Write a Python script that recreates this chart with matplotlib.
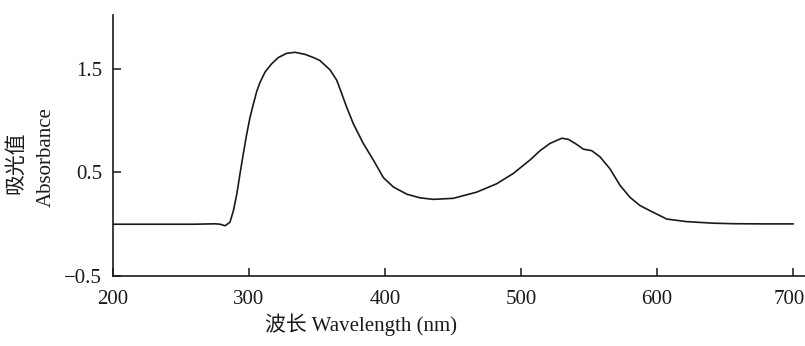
import numpy as np
import matplotlib.pyplot as plt
import matplotlib.transforms as mtransforms

# absorbance spectrum
wavelength = [200, 230, 260, 275, 278.7, 282.4, 286, 288.5, 291, 293.4, 295.8, 298.3, 300.7,
              303.2, 305.6, 308.1, 311.8, 316.7, 321.6, 327.7, 333.8, 341.2, 347.3, 352.2,
              359.6, 364.5, 368.2, 371.8, 376.7, 384, 391.4, 398.8, 406.1, 416, 425.7, 435.5,
              450.2, 467.4, 482, 494.3, 506.6, 514, 521.3, 529.9, 534.8, 541, 545.8, 552,
              558.1, 565.4, 572.8, 580.1, 587.5, 594.9, 607.1, 621.8, 641.4, 656, 680, 700]
absorbance = [0.0, 0.0, 0.0, 0.004, 0.0, -0.015, 0.02, 0.13, 0.29, 0.49, 0.68, 0.87, 1.03,
              1.16, 1.28, 1.37, 1.47, 1.55, 1.61, 1.65, 1.66, 1.64, 1.61, 1.58,
              1.49, 1.39, 1.26, 1.13, 0.97, 0.78, 0.62, 0.45, 0.36, 0.29, 0.255, 0.24,
              0.25, 0.31, 0.39, 0.49, 0.62, 0.71, 0.78, 0.83, 0.82, 0.77, 0.725, 0.71,
              0.65, 0.535, 0.375, 0.26, 0.18, 0.13, 0.05, 0.025, 0.01, 0.005, 0.003, 0.003]
xticks = [200, 300, 400, 500, 600, 700]
yticks = [-0.5, 0.5, 1.5]

fonts = ['Liberation Serif', 'Noto Sans CJK SC']
plt.rcParams['font.family'] = fonts

fig = plt.figure(figsize=(8.05, 3.46), dpi=100)
ax = fig.add_axes([0.1404, 0.2023, 0.8596, 0.7543])

ax.plot(wavelength, absorbance, color='#1a1a1a', lw=1.2, solid_joinstyle='round')

ax.set_xlim(200, 708.8)
ax.set_ylim(-0.5, 2.02)
ax.set_xticks(xticks)
ax.set_yticks(yticks)
ax.set_yticklabels(['\u22120.5', '0.5', '1.5'])

for s in ['top', 'right']:
    ax.spines[s].set_visible(False)
for s in ['left', 'bottom']:
    ax.spines[s].set_linewidth(1.2)
    ax.spines[s].set_color('#1a1a1a')

ax.tick_params(direction='in', length=6, width=1.1, labelsize=15, colors='#1a1a1a')
ax.tick_params(axis='x', pad=10)
ax.tick_params(axis='y', pad=8)
# nudge the last label so it stays inside the figure
shift = mtransforms.ScaledTranslation(-4 / 100, 0, fig.dpi_scale_trans)
last = ax.get_xticklabels()[-1]
last.set_transform(last.get_transform() + shift)

fig.text(0.449, 0.03, '波长 Wavelength (nm)', ha='center', va='bottom', fontsize=15, color='#1a1a1a')
fig.text(0.021, 0.53, '吸光值', rotation=90, ha='center', va='center', fontsize=15, color='#1a1a1a')
fig.text(0.058, 0.545, 'Absorbance', rotation=90, ha='center', va='center', fontsize=15, color='#1a1a1a')

fig.savefig('out.png', dpi=100)
